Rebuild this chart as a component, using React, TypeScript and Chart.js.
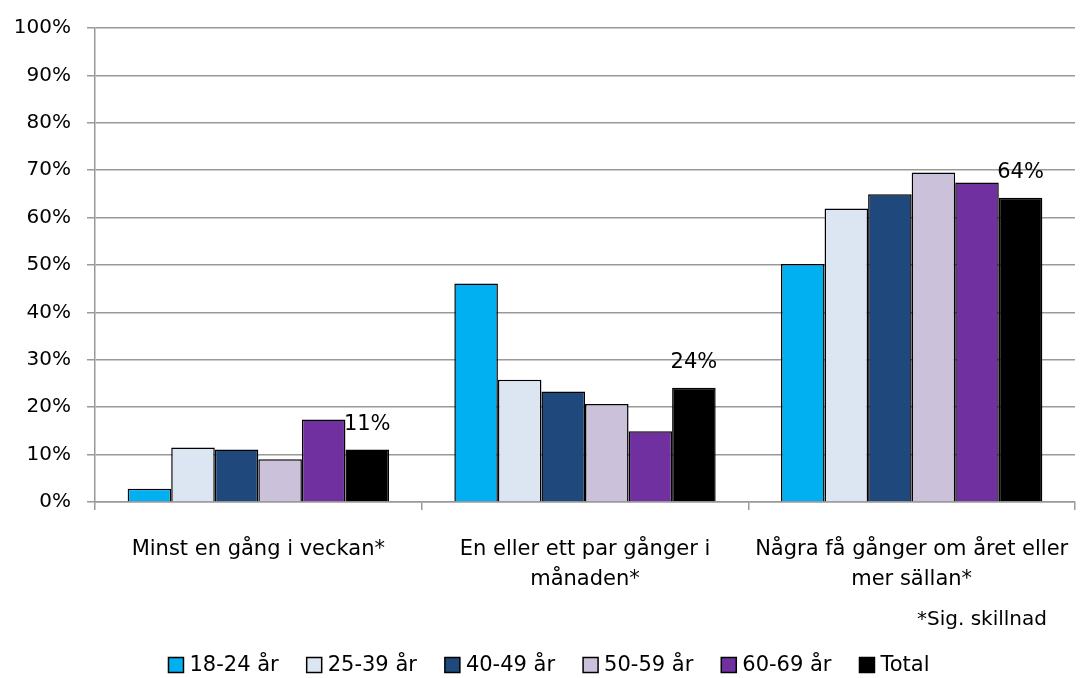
import React, { useEffect, useRef } from "react";
import { Chart, registerables } from "chart.js";

Chart.register(...registerables);

const categories: (string | string[])[] = [
  "Minst en gång i veckan*",
  ["En eller ett par gånger i", "månaden*"],
  ["Några få gånger om året eller", "mer sällan*"],
];
const seriesNames = ["18-24 år", "25-39 år", "40-49 år", "50-59 år", "60-69 år", "Total"];
const age18_24 = [2.8, 46.1, 50.2];
const age25_39 = [11.5, 25.8, 61.9];
const age40_49 = [11.1, 23.3, 64.9];
const age50_59 = [9.0, 20.7, 69.5];
const age60_69 = [17.4, 14.9, 67.4];
const total = [11.1, 24.1, 64.2];
const totalLabels = ["11%", "24%", "64%"];
const yTicks = [0, 10, 20, 30, 40, 50, 60, 70, 80, 90, 100];
const footnote = "*Sig. skillnad";

const colors = ["#00B0F0", "#DCE6F2", "#1F497D", "#CCC1DA", "#7030A0", "#000000"];
const FONT = "'DejaVu Sans', sans-serif";

export default function App() {
  const ref = useRef<HTMLCanvasElement | null>(null);
  useEffect(() => {
    document.body.style.margin = "0";
    if (!ref.current) return;
    const values = [age18_24, age25_39, age40_49, age50_59, age60_69, total];
    const labelPlugin = {
      id: "labels",
      afterDatasetsDraw(chart: any) {
        const ctx = chart.ctx;
        const meta = chart.getDatasetMeta(5);
        ctx.save();
        ctx.font = `21px ${FONT}`;
        ctx.fillStyle = "#000";
        ctx.textAlign = "center";
        ctx.textBaseline = "middle";
        meta.data.forEach((bar: any, i: number) => {
          ctx.fillText(totalLabels[i], bar.x, bar.y - 25);
        });
        // footnote
        ctx.font = `20px ${FONT}`;
        ctx.textAlign = "right";
        ctx.fillText(footnote, chart.chartArea.right - 28, 620);
        // legend
        ctx.font = `21px ${FONT}`;
        const box = 15, gap = 6, spacing = 28;
        const widths = seriesNames.map((n) => ctx.measureText(n).width);
        const totalW =
          widths.reduce((a, b) => a + b, 0) + seriesNames.length * (box + gap) + (seriesNames.length - 1) * spacing;
        let x = 549 - totalW / 2;
        const cy = 665;
        ctx.textAlign = "left";
        seriesNames.forEach((n, i) => {
          ctx.fillStyle = colors[i];
          ctx.fillRect(x, cy - box / 2, box, box);
          ctx.strokeStyle = "#000";
          ctx.lineWidth = 1.5;
          ctx.strokeRect(x, cy - box / 2, box, box);
          ctx.fillStyle = "#000";
          ctx.fillText(n, x + box + gap, cy + 1);
          x += box + gap + widths[i] + spacing;
        });
        ctx.restore();
      },
    };
    const chart = new Chart(ref.current, {
      type: "bar",
      data: {
        labels: categories,
        datasets: seriesNames.map((n, i) => ({
          label: n,
          data: values[i],
          backgroundColor: colors[i],
          borderColor: "#000",
          borderWidth: 1.5,
          categoryPercentage: 0.8,
          barPercentage: 1.0,
        })),
      },
      options: {
        animation: false,
        responsive: false,
        layout: { padding: { top: 24, right: 5, left: 0, bottom: 0 } },
        plugins: {
          tooltip: { enabled: false },
          legend: { display: false },
        },
        scales: {
          x: {
            grid: {
              display: true,
              drawOnChartArea: false,
              offset: true,
              color: "#999",
              lineWidth: 1.5,
              tickLength: 8,
            },
            border: { color: "#999", width: 1.5 },
            ticks: {
              font: { size: 21, family: FONT, lineHeight: "30px" },
              color: "#000",
              padding: 25,
              maxRotation: 0,
              autoSkip: false,
            },
            afterFit(scale: any) {
              scale.height = 176;
              scale.paddingLeft = 0;
              scale.paddingRight = 0;
            },
          },
          y: {
            min: 0,
            max: 100,
            afterBuildTicks(scale: any) {
              scale.ticks = yTicks.map((v) => ({ value: v }));
            },
            afterFit(scale: any) {
              scale.width = 95;
            },
            grid: { color: "#999", lineWidth: 1.5, tickLength: 8 },
            border: { color: "#999", width: 1.5 },
            ticks: {
              font: { size: 20, family: FONT },
              color: "#000",
              padding: 16,
              callback: (v: any) => v + "%",
            },
          },
        },
      },
      plugins: [labelPlugin],
    });
    return () => chart.destroy();
  }, []);
  return (
    <div style={{ width: 1080, height: 678 }}>
      <canvas ref={ref} width={1080} height={678} style={{ display: "block" }} />
    </div>
  );
}
